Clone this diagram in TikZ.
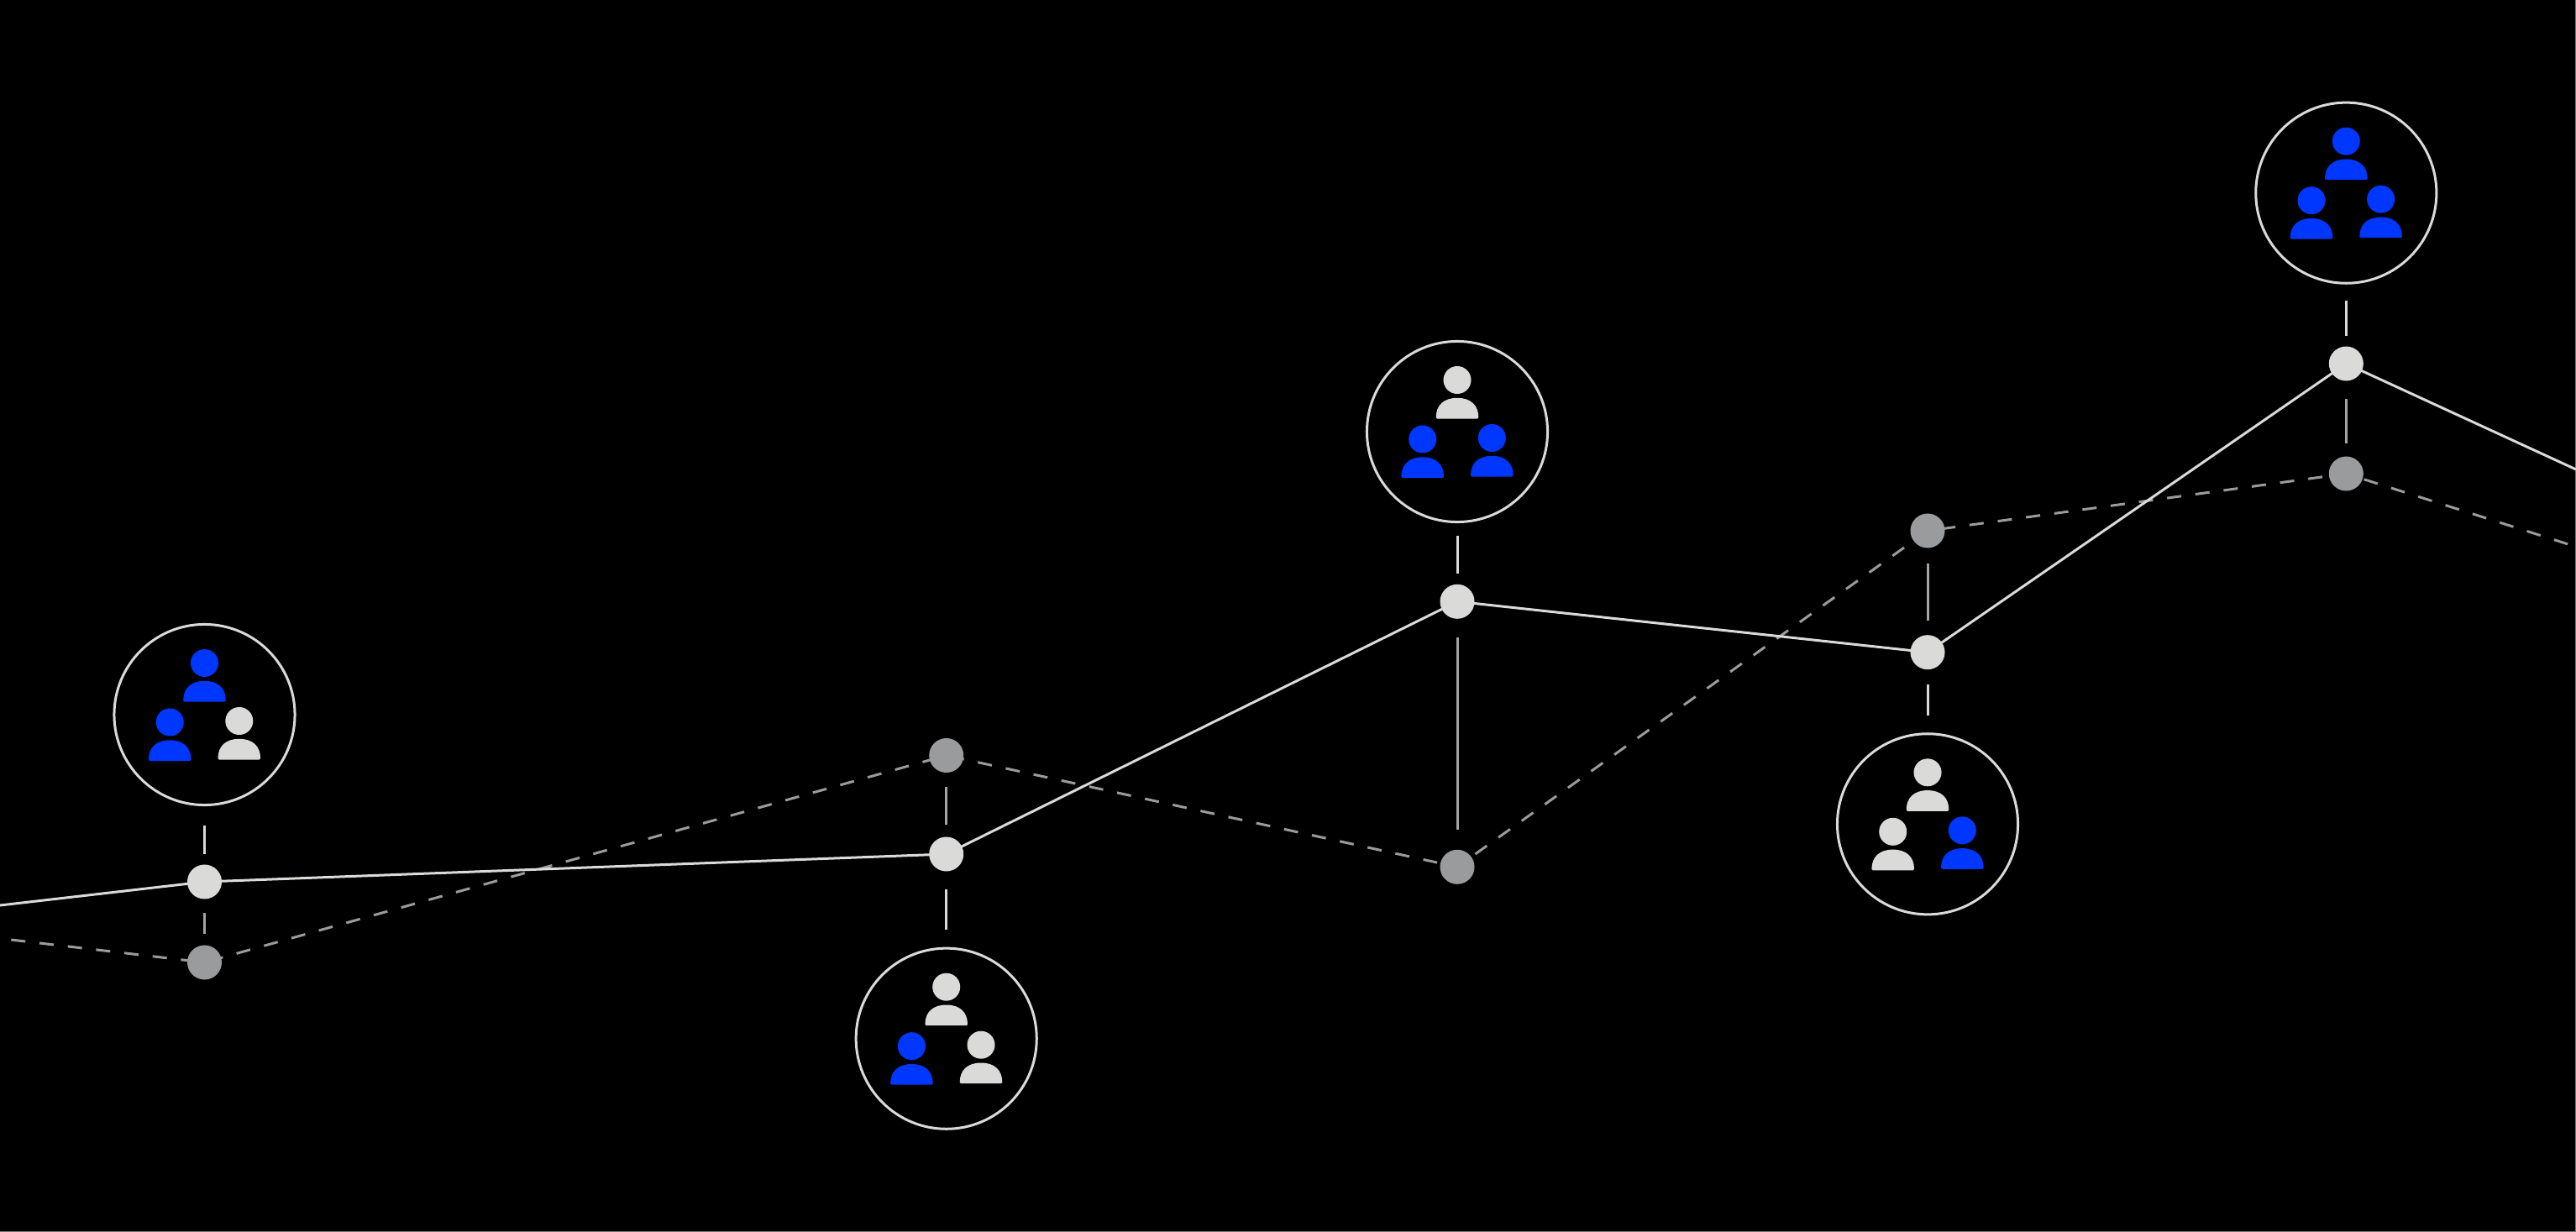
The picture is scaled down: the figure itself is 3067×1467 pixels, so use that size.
\documentclass[tikz,border=0pt]{standalone}
\usetikzlibrary{backgrounds}
\tikzset{
hub/.style={circle, fill=light, inner sep=0pt, outer sep=0pt, minimum size=.41cm},
low/.style={circle, fill=dim, inner sep=0pt, outer sep=0pt, minimum size=.41cm},
team/.style={circle, draw=light, line width=.03cm, inner sep=0pt, outer sep=0pt, minimum size=2.15cm},
stem/.style={color=light, line width=.03cm},
lowstem/.style={color=stemgray, line width=.03cm},
pics/person/.style={code={
\fill[#1] (0,0) circle[radius=.165cm];
\fill[#1] (-24,46) .. controls (-25,46) and (-25.3,45.5) .. (-25.3,44.5) .. controls (-25.3,30) and (-16,21.3) .. (0,21.3) .. controls (16,21.3) and (25.3,30) .. (25.3,44.5) .. controls (25.3,45.5) and (25,46) .. (24,46) -- cycle;
}},
pics/trio/.style n args={3}{code={
\pic at (0,-61.5) {person=#1};
\pic at (-41.3,9) {person=#2};
\pic at (41.3,7.5) {person=#3};
}},
}
\begin{document}
\begin{tikzpicture}[x=.01cm, y=-.01cm]
\definecolor{light}{HTML}{DADAD8}
\definecolor{dim}{HTML}{9A9B9C}
\definecolor{stemgray}{HTML}{A4A4A4}
\definecolor{blue}{HTML}{0037FF}
\definecolor{rim}{HTML}{777777}
\useasboundingbox (0,0) rectangle (3067,1467);
%Upper and lower points:
\node[hub] (hubA) at (243.5,1050) {};
\node[hub] (hubB) at (1126.7,1017) {};
\node[hub] (hubC) at (1735,716.3) {};
\node[hub] (hubD) at (2295,776.7) {};
\node[hub] (hubE) at (2793.3,433) {};
\node[low] (lowA) at (243.5,1146) {};
\node[low] (lowB) at (1126.7,899.5) {};
\node[low] (lowC) at (1735,1032.3) {};
\node[low] (lowD) at (2295,632) {};
\node[low] (lowE) at (2793.3,564) {};
\coordinate (hubstart) at (0,1078);
\coordinate (hubend) at (3067,559);
\coordinate (lowstart) at (13.3,1119);
\coordinate (lowend) at (3067,651);
%Teams:
\node[team] (teamA) at (243.5,851) {};
\node[team] (teamB) at (1126.7,1236.7) {};
\node[team] (teamC) at (1735,514) {};
\node[team] (teamD) at (2295,981.3) {};
\node[team] (teamE) at (2793.3,229.7) {};
\pic at (teamA) {trio={blue}{blue}{light}};
\pic at (teamB) {trio={light}{blue}{light}};
\pic at (teamC) {trio={light}{blue}{blue}};
\pic at (teamD) {trio={light}{light}{blue}};
\pic at (teamE) {trio={blue}{blue}{blue}};
%Ground and lines, under the points:
\begin{pgfonlayer}{background}
\fill[color=black] (0,0) rectangle (3067,1467);
\draw[color=rim, line width=.01cm] (3066.5,0) -- (3066.5,1466.5) -- (0,1466.5);
\draw[color=dim, line width=.03cm, dash pattern=on .17cm off .169cm] (lowstart) -- (lowA.center) -- (lowB.center) -- (lowC.center) -- (lowD.center) -- (lowE.center) -- (lowend);
\draw[color=light, line width=.03cm] (hubstart) -- (hubA.center) -- (hubB.center) -- (hubC.center) -- (hubD.center) -- (hubE.center) -- (hubend);
\end{pgfonlayer}
%Stems:
\draw[stem, shorten <=.245cm, shorten >=.125cm] (teamA) -- (hubA);
\draw[lowstem, shorten <=.165cm, shorten >=.135cm] (hubA) -- (lowA);
\draw[lowstem, shorten <=.17cm, shorten >=.145cm] (lowB) -- (hubB);
\draw[stem, shorten <=.215cm, shorten >=.22cm] (hubB) -- (teamB);
\draw[stem, shorten <=.162cm, shorten >=.13cm] (teamC) -- (hubC);
\draw[lowstem, shorten <=.225cm, shorten >=.24cm] (hubC) -- (lowC);
\draw[lowstem, shorten <=.185cm, shorten >=.17cm] (lowD) -- (hubD);
\draw[stem, shorten <=.18cm, shorten >=.22cm] (hubD) -- (teamD);
\draw[stem, shorten <=.21cm, shorten >=.125cm] (teamE) -- (hubE);
\draw[lowstem, shorten <=.21cm, shorten >=.155cm] (hubE) -- (lowE);
\end{tikzpicture}
\end{document}
